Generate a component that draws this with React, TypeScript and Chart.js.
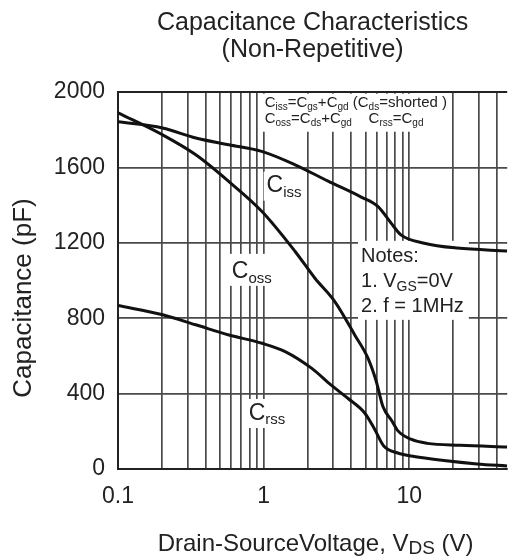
import React, { useEffect, useRef } from 'react';
import { Chart, registerables } from 'chart.js';

Chart.register(...registerables);

// ---------- data ----------
const TITLE_LINES = ['Capacitance Characteristics', '(Non-Repetitive)'];
const Y_TITLE = 'Capacitance (pF)';

const X_MIN = 0.1;
const X_MAX = 47;
const X_GRID = [0.1, 0.2, 0.3, 0.4, 0.5, 0.6, 0.7, 0.8, 0.9, 1, 2, 3, 4, 5, 6, 7, 8, 9, 10, 20, 30, 40];
const X_LABELED = [0.1, 1, 10];

const Y_MIN = 0;
const Y_MAX = 2000;
const Y_STEP = 400;

const CISS_V = [0.1, 0.202, 0.342, 0.577, 0.969, 1.645, 2.77, 4.64, 6.08, 7.49, 8.76, 12.66, 21.3, 47];
const CISS_PF = [1842, 1809, 1756, 1720, 1685, 1614, 1527, 1444, 1393, 1305, 1242, 1198, 1172, 1157];

const COSS_V = [0.1, 0.202, 0.342, 0.577, 0.974, 1.645, 2.25, 3.08, 4.22, 5.2, 5.92, 6.6, 7.6, 8.3, 10.25, 13.3, 22.4, 47];
const COSS_PF = [1890, 1773, 1667, 1525, 1366, 1154, 1012, 888, 711, 588, 467, 330, 255, 205, 158, 136, 126, 117];

const CRSS_V = [0.1, 0.2026, 0.342, 0.577, 0.974, 1.405, 2.13, 2.91, 3.8, 4.94, 5.77, 6.68, 8.32, 10.8, 17.3, 29.2, 47];
const CRSS_PF = [867, 818, 765, 711, 667, 623, 535, 445, 374, 297, 212, 122, 85, 66, 45, 27, 16];

type Seg = [string, boolean?];

const NOTE_CISS_DEF: Seg[] = [['C'], ['iss', true], ['=C'], ['gs', true], ['+C'], ['gd', true], [' (C'], ['ds', true], ['=shorted )']];
const NOTE_COSS_DEF: Seg[] = [['C'], ['oss', true], ['=C'], ['ds', true], ['+C'], ['gd', true], ['    C'], ['rss', true], ['=C'], ['gd', true]];
const NOTES: Seg[][] = [[['Notes:']], [['1. V'], ['GS', true], ['=0V']], [['2. f = 1MHz']]];
const LBL_CISS: Seg[] = [['C'], ['iss', true]];
const LBL_COSS: Seg[] = [['C'], ['oss', true]];
const LBL_CRSS: Seg[] = [['C'], ['rss', true]];
const X_TITLE: Seg[] = [['Drain-SourceVoltage, V'], ['DS', true], [' (V)']];

// ---------- drawing helpers ----------
const FAMILY = '"Liberation Sans", Arial, Helvetica, sans-serif';
const TEXT = '#222';

function fnt(size: number) {
  return `${size}px ${FAMILY}`;
}

function richWidth(ctx: CanvasRenderingContext2D, segs: Seg[], size: number, sub: number) {
  let w = 0;
  for (const s of segs) {
    ctx.font = fnt(s[1] ? sub : size);
    w += ctx.measureText(s[0]).width;
  }
  return w;
}

function drawRich(
  ctx: CanvasRenderingContext2D,
  segs: Seg[],
  x: number,
  y: number,
  size: number,
  sub: number,
  drop: number,
  center = false
) {
  let cx = center ? x - richWidth(ctx, segs, size, sub) / 2 : x;
  ctx.textAlign = 'left';
  ctx.textBaseline = 'alphabetic';
  for (const s of segs) {
    ctx.font = fnt(s[1] ? sub : size);
    ctx.fillText(s[0], cx, s[1] ? y + drop : y);
    cx += ctx.measureText(s[0]).width;
  }
}

const decorations = {
  id: 'decorations',
  beforeDatasetsDraw(chart: any) {
    const { ctx } = chart;
    const xs = chart.scales.x;
    const ys = chart.scales.y;
    const px = (v: number) => xs.getPixelForValue(v);
    const py = (c: number) => ys.getPixelForValue(c);
    ctx.save();
    ctx.fillStyle = '#fff';
    {
      const x = px(1.016), y = py(1922);
      const w = Math.max(richWidth(ctx, NOTE_CISS_DEF, 15, 10), richWidth(ctx, NOTE_COSS_DEF, 15, 10));
      ctx.fillRect(x - 3, y - 13, w + 7, 38);
    }
    {
      const x = px(1.048), y = py(1471);
      ctx.fillRect(x - 3, y - 20, richWidth(ctx, LBL_CISS, 23, 15) + 6, 29);
    }
    {
      const x = px(0.605), y = py(1014);
      ctx.fillRect(x - 3, y - 24, richWidth(ctx, LBL_COSS, 23, 15) + 6, 32);
    }
    {
      const x = px(0.79), y = py(260);
      ctx.fillRect(x - 3, y - 21, richWidth(ctx, LBL_CRSS, 23, 15) + 6, 29);
    }
    {
      const x = px(4.66), y = py(1099);
      let w = 0;
      for (const l of NOTES) w = Math.max(w, richWidth(ctx, l, 20, 14));
      ctx.fillRect(x - 3, y - 21, w + 8, 79);
    }
    ctx.restore();
  },
  afterDatasetsDraw(chart: any) {
    const { ctx, chartArea } = chart;
    const xs = chart.scales.x;
    const ys = chart.scales.y;
    const px = (v: number) => xs.getPixelForValue(v);
    const py = (c: number) => ys.getPixelForValue(c);
    ctx.save();
    ctx.fillStyle = TEXT;

    const cx = (chartArea.left + chartArea.right) / 2;
    ctx.font = fnt(25);
    ctx.textAlign = 'center';
    ctx.textBaseline = 'middle';
    ctx.fillText(TITLE_LINES[0], cx, 23);
    ctx.fillText(TITLE_LINES[1], cx, 50);

    ctx.save();
    ctx.translate(24, 298);
    ctx.rotate(-Math.PI / 2);
    ctx.font = fnt(26);
    ctx.textAlign = 'center';
    ctx.textBaseline = 'middle';
    ctx.fillText(Y_TITLE, 0, 0);
    ctx.restore();

    drawRich(ctx, X_TITLE, cx + 3, 551, 24, 19, 3, true);

    {
      const x = px(1.016), y = py(1922);
      drawRich(ctx, NOTE_CISS_DEF, x, y, 15, 10, 3);
      drawRich(ctx, NOTE_COSS_DEF, x, y + 16, 15, 10, 3);
    }
    drawRich(ctx, LBL_CISS, px(1.048), py(1471), 23, 15, 5);
    drawRich(ctx, LBL_COSS, px(0.605), py(1014), 23, 15, 5);
    drawRich(ctx, LBL_CRSS, px(0.79), py(260), 23, 15, 4);

    {
      const x = px(4.66), y = py(1099);
      NOTES.forEach((l, i) => drawRich(ctx, l, x, y + i * 25, 20, 14, 4));
    }
    ctx.restore();
  },
};

export default function App() {
  const ref = useRef<HTMLCanvasElement>(null);

  useEffect(() => {
    const canvas = ref.current;
    if (!canvas) return;
    const pts = (v: number[], c: number[]) => v.map((x, i) => ({ x, y: c[i] }));
    const ds = (label: string, v: number[], c: number[]) => ({
      label,
      data: pts(v, c),
      borderColor: '#111',
      borderWidth: 3,
      pointRadius: 0,
      fill: false,
      cubicInterpolationMode: 'monotone' as const,
    });
    const gridColor = '#4a4a4a';
    const chart = new Chart(canvas, {
      type: 'line',
      data: {
        datasets: [ds('Ciss', CISS_V, CISS_PF), ds('Coss', COSS_V, COSS_PF), ds('Crss', CRSS_V, CRSS_PF)],
      },
      options: {
        responsive: false,
        animation: false,
        events: [],
        layout: { padding: { top: 92, left: 0, right: 0, bottom: 0 } },
        plugins: {
          legend: { display: false },
          tooltip: { enabled: false },
          title: { display: false },
        },
        scales: {
          x: {
            type: 'logarithmic',
            min: X_MIN,
            max: X_MAX,
            afterBuildTicks: (s: any) => {
              s.ticks = X_GRID.map((v) => ({ value: v }));
            },
            afterFit: (s: any) => {
              s.height = 89;
            },
            ticks: {
              autoSkip: false,
              maxRotation: 0,
              padding: 14,
              color: TEXT,
              font: { family: FAMILY, size: 23 },
              callback: (v: any) => (X_LABELED.includes(Number(v)) ? String(v) : ''),
            },
            grid: { color: gridColor, lineWidth: 1.7, drawTicks: false },
            border: { color: '#222', width: 2 },
          },
          y: {
            type: 'linear',
            min: Y_MIN,
            max: Y_MAX,
            afterFit: (s: any) => {
              s.width = 118;
            },
            ticks: {
              stepSize: Y_STEP,
              padding: 13,
              color: TEXT,
              font: { family: FAMILY, size: 23 },
              callback: (v: any) => String(v),
            },
            grid: {
              color: (c: any) => (c.tick && c.tick.value === Y_MAX ? '#222' : gridColor),
              lineWidth: (c: any) => (c.tick && c.tick.value === Y_MAX ? 2 : 1.7),
              drawTicks: false,
            },
            border: { color: '#222', width: 2 },
          },
        },
      } as any,
      plugins: [decorations],
    });
    return () => chart.destroy();
  }, []);

  return (
    <div style={{ position: 'absolute', left: 0, top: 0, width: 511, height: 558, background: '#fff' }}>
      <canvas ref={ref} width={511} height={558} style={{ display: 'block' }} />
    </div>
  );
}
